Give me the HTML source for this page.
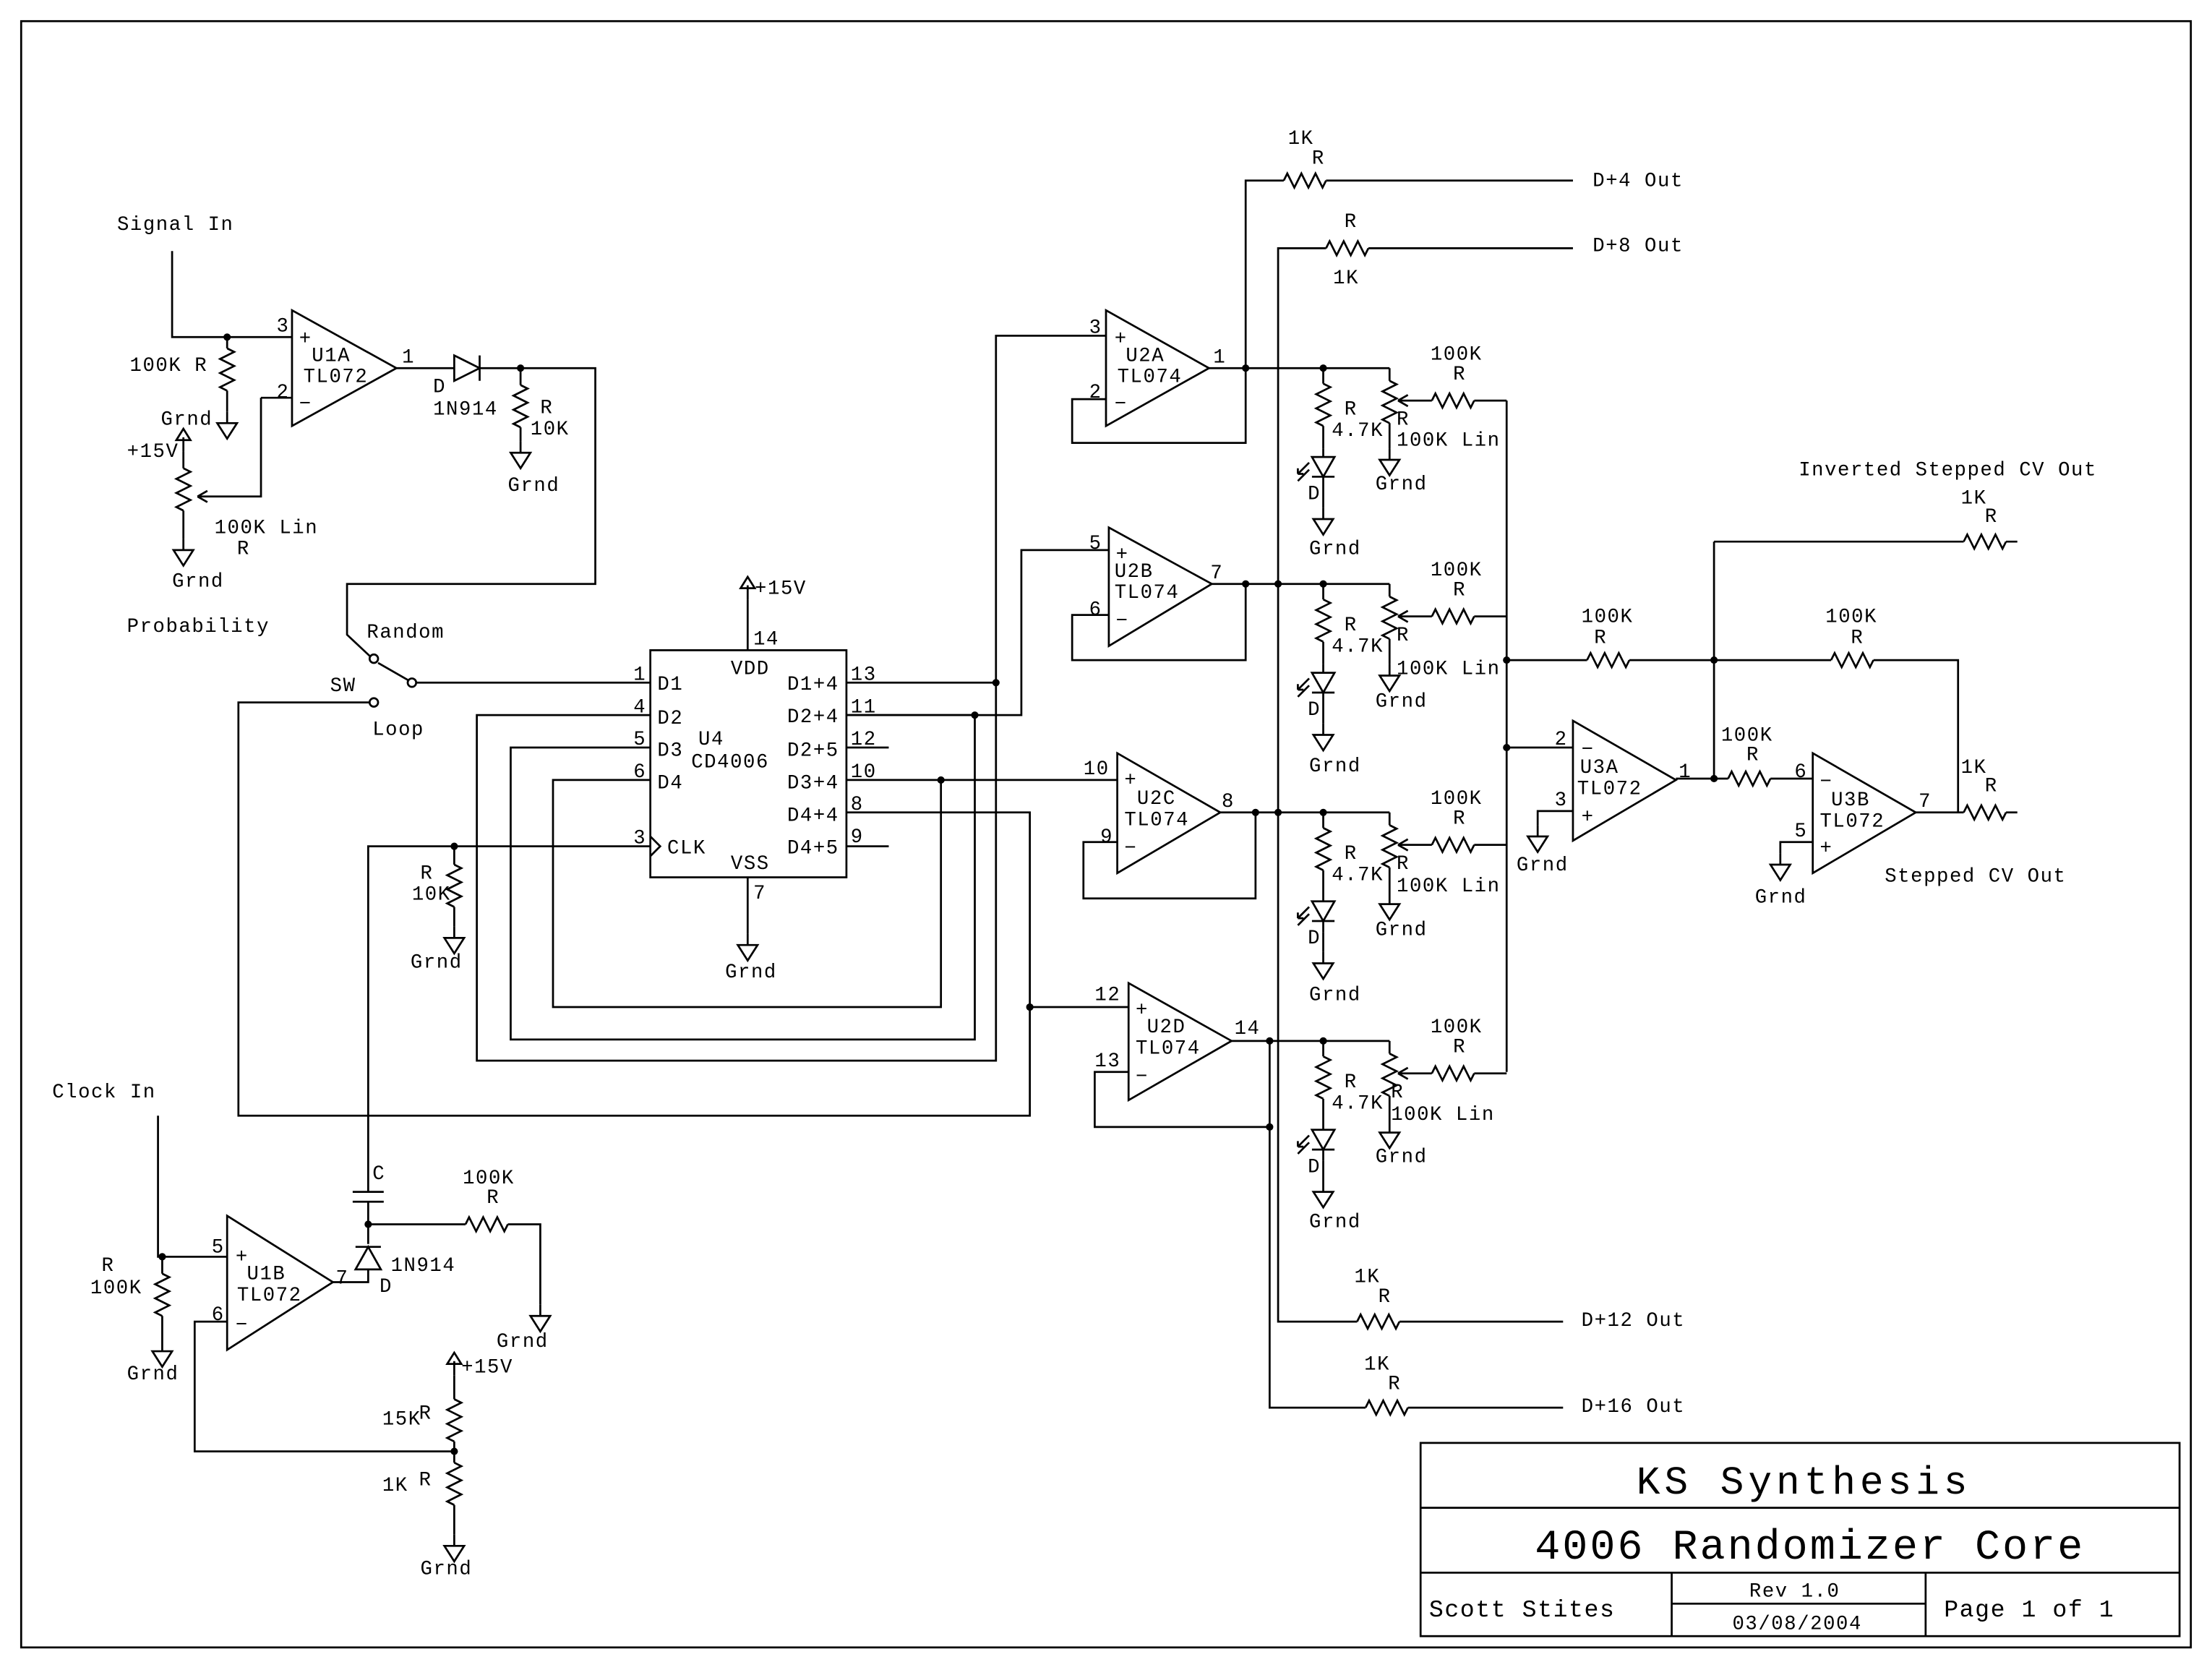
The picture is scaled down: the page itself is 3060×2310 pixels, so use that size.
<!DOCTYPE html>
<html><head><meta charset="utf-8">
<style>
html,body{margin:0;padding:0;background:#fff;}
svg{display:block;}
text{font-family:"Liberation Mono",monospace;font-size:14px;fill:#000;letter-spacing:0.8px;}
</style></head>
<body>
<svg width="3060" height="2310" viewBox="0 0 1568 1184" preserveAspectRatio="none" xmlns="http://www.w3.org/2000/svg">
<defs>
<path id="rh" d="M-15,0 l2.5,-5 l5,10 l5,-10 l5,10 l5,-10 l5,10 l2.5,-5" fill="none" stroke="#000" stroke-width="1.4"/>
<path id="rv" d="M0,-15 l5,2.5 l-10,5 l10,5 l-10,5 l10,5 l-10,5 l5,2.5" fill="none" stroke="#000" stroke-width="1.4"/>
<path id="gnd" d="M0,0 v8 M-7,8 h14 l-7,11 z" fill="none" stroke="#000" stroke-width="1.4"/>
<path id="vcc" d="M0,0 v-10 M-5,-8 l5,-8 l5,8 z" fill="none" stroke="#000" stroke-width="1.4"/>
<circle id="dot" r="2.6" fill="#000"/>
<g id="led" fill="none" stroke="#000" stroke-width="1.4">
<path d="M-8,0 h16 l-8,14 z M-8,14 h16 M0,-6 v6 M0,14 v8"/>
<path d="M-10,4 l-8,8 M-10,9 l-8,8 M-18,12 l0,-4 M-18,12 l4,0"/>
</g>
</defs>
<g fill="none" stroke="#000" stroke-width="1.4">
<rect x="15" y="15" width="1538" height="1153"/>
<rect x="1007" y="1023" width="538" height="137"/>
<path d="M1007,1069 H1545 M1007,1115 H1545 M1185,1115 V1160 M1365,1115 V1160 M1185,1137 H1365"/>

<path d="M122,178 V239 H207"/>
<path d="M161,239 V247 M161,277 V292"/>
<path d="M281,261 H322 M340,261 H422 V414 H246 V450 L262,465"/>
<path d="M322,252 V270 L340,261 Z M340,252 V270"/>
<path d="M369,261 V273 M369,303 V313"/>
<path d="M207,220 V302 L281,261 Z"/>
<path d="M185,282 H207 M185,282 V352 H140 M140,352 l7,-4 M140,352 l7,4"/>
<path d="M130,320 V332 M130,362 V382"/>
<circle cx="265" cy="467" r="3"/>
<circle cx="265" cy="498" r="3"/>
<circle cx="292" cy="484" r="3"/>
<path d="M289,482 L268,470 M295,484 H461"/>
<path d="M262,498 H169 V791 H730 V714 H800"/>

<rect x="461" y="461" width="139" height="161"/>
<path d="M461,593 l7,7 l-7,7"/>
<path d="M530,461 V425 M530,622 V662"/>
<path d="M461,507 H338 V752 H706 V238 H784"/>
<path d="M461,530 H362 V737 H691 V507 H600"/>
<path d="M461,553 H392 V714 H667 V553"/>
<path d="M600,484 H706"/>
<path d="M600,507 H724 V390 H786"/>
<path d="M600,530 H630 M600,600 H630"/>
<path d="M600,553 H792"/>
<path d="M600,576 H730 V714"/>
<path d="M461,600 H261 V845"/>
<path d="M322,600 V613 M322,643 V657"/>

<path d="M112,791 V891 H161 M115,891 V903 M115,933 V950"/>
<path d="M161,862 V957 L236,909 Z"/>
<path d="M161,937 H138 V1029 H322"/>
<path d="M322,975 V992 M322,1022 V1037 M322,1067 V1088"/>
<path d="M236,909 H261 V900 M261,882 V868 V852 M250,845 H272 M250,852 H272"/>
<path d="M252,900 H270 L261,884 Z M252,884 H270"/>
<path d="M261,868 H330 M360,868 H383 V925"/>

<path d="M784,220 V302 L857,261 Z"/>
<path d="M784,283 H760 V314 H883 V128 H910 M940,128 H1115"/>
<path d="M857,261 H985"/>
<path d="M786,374 V458 L859,414 Z"/>
<path d="M786,436 H760 V468 H883 V414 M859,414 H985"/>
<path d="M906,414 V176 H940 M970,176 H1115"/>
<path d="M906,414 V576"/>
<path d="M792,534 V619 L865,576 Z"/>
<path d="M792,597 H768 V637 H890 V576 M865,576 H985"/>
<path d="M906,576 V937 H962 M992,937 H1108"/>
<path d="M800,697 V780 L873,738 Z"/>
<path d="M800,760 H776 V799 H900 M873,738 H985"/>
<path d="M900,738 V998 H968 M998,998 H1108"/>

<path d="M1068,284 V760"/>
<path d="M1068,468 H1125 M1155,468 H1298 M1328,468 H1388 V576"/>
<path d="M1068,530 H1115"/>
<path d="M1115,511 V596 L1188,553 Z"/>
<path d="M1115,575 H1090 V585"/>
<path d="M1188,552 H1225 M1255,552 H1285"/>
<path d="M1215,384 V552 M1215,384 H1392 M1422,384 H1430"/>
<path d="M1285,534 V619 L1358,576 Z"/>
<path d="M1285,597 H1262 V605"/>
<path d="M1358,576 H1392 M1422,576 H1430"/>
</g>

<g fill="none" stroke="#000" stroke-width="1.4">
<path d="M938,261 V272 M938,302 V318 M938,346 V360"/>
<path d="M985,261 V270 M985,300 V318 M1045,284 H1068 M1015,284 H991 M991,284 l7,-4 M991,284 l7,4"/>
<path d="M938,414 V425 M938,455 V471 M938,499 V513"/>
<path d="M985,414 V423 M985,453 V471 M1045,437 H1068 M1015,437 H991 M991,437 l7,-4 M991,437 l7,4"/>
<path d="M938,576 V587 M938,617 V633 M938,661 V675"/>
<path d="M985,576 V585 M985,615 V633 M1045,599 H1068 M1015,599 H991 M991,599 l7,-4 M991,599 l7,4"/>
<path d="M938,738 V749 M938,779 V795 M938,823 V837"/>
<path d="M985,738 V747 M985,777 V795 M1045,761 H1068 M1015,761 H991 M991,761 l7,-4 M991,761 l7,4"/>
</g>
<use href="#rv" x="938" y="287"/><use href="#led" x="938" y="324"/><use href="#gnd" x="938" y="360"/>
<use href="#rv" x="985" y="285"/><use href="#gnd" x="985" y="318"/><use href="#rh" x="1030" y="284"/>
<use href="#rv" x="938" y="440"/><use href="#led" x="938" y="477"/><use href="#gnd" x="938" y="513"/>
<use href="#rv" x="985" y="438"/><use href="#gnd" x="985" y="471"/><use href="#rh" x="1030" y="437"/>
<use href="#rv" x="938" y="602"/><use href="#led" x="938" y="639"/><use href="#gnd" x="938" y="675"/>
<use href="#rv" x="985" y="600"/><use href="#gnd" x="985" y="633"/><use href="#rh" x="1030" y="599"/>
<use href="#rv" x="938" y="764"/><use href="#led" x="938" y="801"/><use href="#gnd" x="938" y="837"/>
<use href="#rv" x="985" y="762"/><use href="#gnd" x="985" y="795"/><use href="#rh" x="1030" y="761"/>

<use href="#rv" x="161" y="262"/><use href="#gnd" x="161" y="292"/>
<use href="#rv" x="369" y="288"/><use href="#gnd" x="369" y="313"/>
<use href="#rv" x="130" y="347"/><use href="#vcc" x="130" y="320"/><use href="#gnd" x="130" y="382"/>
<use href="#vcc" x="530" y="425"/><use href="#gnd" x="530" y="662"/>
<use href="#rv" x="322" y="628"/><use href="#gnd" x="322" y="657"/>
<use href="#rv" x="115" y="918"/><use href="#gnd" x="115" y="950"/>
<use href="#vcc" x="322" y="975"/><use href="#rv" x="322" y="1007"/><use href="#rv" x="322" y="1052"/><use href="#gnd" x="322" y="1088"/>
<use href="#rh" x="345" y="868"/><use href="#gnd" x="383" y="925"/>
<use href="#rh" x="925" y="128"/><use href="#rh" x="955" y="176"/>
<use href="#rh" x="977" y="937"/><use href="#rh" x="983" y="998"/>
<use href="#rh" x="1140" y="468"/><use href="#rh" x="1313" y="468"/><use href="#rh" x="1240" y="552"/>
<use href="#rh" x="1407" y="384"/><use href="#rh" x="1407" y="576"/>
<use href="#gnd" x="1090" y="585"/><use href="#gnd" x="1262" y="605"/>

<use href="#dot" x="161" y="239"/><use href="#dot" x="369" y="261"/>
<use href="#dot" x="706" y="484"/><use href="#dot" x="691" y="507"/><use href="#dot" x="667" y="553"/>
<use href="#dot" x="322" y="600"/><use href="#dot" x="730" y="714"/>
<use href="#dot" x="115" y="891"/><use href="#dot" x="322" y="1029"/><use href="#dot" x="261" y="868"/>
<use href="#dot" x="883" y="261"/><use href="#dot" x="938" y="261"/>
<use href="#dot" x="883" y="414"/><use href="#dot" x="906" y="414"/><use href="#dot" x="938" y="414"/>
<use href="#dot" x="890" y="576"/><use href="#dot" x="906" y="576"/><use href="#dot" x="938" y="576"/>
<use href="#dot" x="900" y="738"/><use href="#dot" x="938" y="738"/><use href="#dot" x="900" y="799"/>
<use href="#dot" x="1068" y="468"/><use href="#dot" x="1068" y="530"/>
<use href="#dot" x="1215" y="468"/><use href="#dot" x="1215" y="552"/>

<text x="83" y="163">Signal In</text>
<text x="92" y="263">100K R</text>
<text x="114" y="301">Grnd</text>
<text x="90" y="324">+15V</text>
<text x="152" y="378">100K Lin</text>
<text x="168" y="393">R</text>
<text x="122" y="416">Grnd</text>
<text x="90" y="448">Probability</text>
<text x="196" y="235">3</text><text x="196" y="282">2</text><text x="285" y="257">1</text>
<text x="212" y="244">+</text><text x="212" y="290">−</text>
<text x="221" y="256">U1A</text><text x="215" y="271">TL072</text>
<text x="307" y="278">D</text><text x="307" y="294">1N914</text>
<text x="383" y="293">R</text><text x="376" y="308">10K</text>
<text x="360" y="348">Grnd</text>
<text x="260" y="452">Random</text>
<text x="234" y="490">SW</text>
<text x="264" y="521">Loop</text>

<text x="535" y="421">+15V</text>
<text x="534" y="457">14</text>
<text x="518" y="478">VDD</text><text x="518" y="616">VSS</text>
<text x="495" y="528">U4</text><text x="490" y="544">CD4006</text>
<text x="466" y="489">D1</text><text x="466" y="513">D2</text><text x="466" y="536">D3</text><text x="466" y="559">D4</text>
<text x="473" y="605">CLK</text>
<text x="449" y="482">1</text><text x="449" y="505">4</text><text x="449" y="528">5</text><text x="449" y="551">6</text><text x="449" y="598">3</text>
<text x="558" y="489">D1+4</text><text x="558" y="512">D2+4</text><text x="558" y="536">D2+5</text>
<text x="558" y="559">D3+4</text><text x="558" y="582">D4+4</text><text x="558" y="605">D4+5</text>
<text x="603" y="482">13</text><text x="603" y="505">11</text><text x="603" y="528">12</text>
<text x="603" y="551">10</text><text x="603" y="574">8</text><text x="603" y="597">9</text>
<text x="534" y="637">7</text>
<text x="514" y="693">Grnd</text>
<text x="298" y="623">R</text><text x="292" y="638">10K</text>
<text x="291" y="686">Grnd</text>

<text x="37" y="778">Clock In</text>
<text x="72" y="901">R</text><text x="64" y="917">100K</text>
<text x="90" y="978">Grnd</text>
<text x="150" y="888">5</text><text x="150" y="936">6</text><text x="238" y="910">7</text>
<text x="167" y="895">+</text><text x="167" y="943">−</text>
<text x="175" y="907">U1B</text><text x="168" y="922">TL072</text>
<text x="264" y="836">C</text>
<text x="277" y="901">1N914</text><text x="269" y="916">D</text>
<text x="328" y="839">100K</text><text x="345" y="853">R</text>
<text x="352" y="955">Grnd</text>
<text x="327" y="973">+15V</text>
<text x="271" y="1010">15K</text><text x="297" y="1006">R</text>
<text x="271" y="1057">1K</text><text x="297" y="1053">R</text>
<text x="298" y="1116">Grnd</text>

<text x="913" y="102">1K</text><text x="930" y="116">R</text><text x="1129" y="132">D+4 Out</text>
<text x="953" y="161">R</text><text x="945" y="201">1K</text><text x="1129" y="178">D+8 Out</text>

<text x="772" y="236">3</text><text x="772" y="282">2</text><text x="860" y="257">1</text>
<text x="790" y="244">+</text><text x="790" y="290">−</text>
<text x="798" y="256">U2A</text><text x="792" y="271">TL074</text>
<text x="772" y="389">5</text><text x="772" y="436">6</text><text x="858" y="410">7</text>
<text x="791" y="397">+</text><text x="791" y="444">−</text>
<text x="790" y="409">U2B</text><text x="790" y="424">TL074</text>
<text x="768" y="549">10</text><text x="780" y="597">9</text><text x="866" y="572">8</text>
<text x="797" y="557">+</text><text x="797" y="605">−</text>
<text x="806" y="570">U2C</text><text x="797" y="585">TL074</text>
<text x="776" y="709">12</text><text x="776" y="756">13</text><text x="875" y="733">14</text>
<text x="805" y="720">+</text><text x="805" y="767">−</text>
<text x="813" y="732">U2D</text><text x="805" y="747">TL074</text>

<text x="1014" y="255">100K</text><text x="1030" y="269">R</text>
<text x="953" y="294">R</text><text x="944" y="309">4.7K</text>
<text x="990" y="301">R</text><text x="990" y="316">100K Lin</text>
<text x="927" y="354">D</text><text x="975" y="347">Grnd</text><text x="928" y="393">Grnd</text>
<text x="1014" y="408">100K</text><text x="1030" y="422">R</text>
<text x="953" y="447">R</text><text x="944" y="462">4.7K</text>
<text x="990" y="454">R</text><text x="990" y="478">100K Lin</text>
<text x="927" y="507">D</text><text x="975" y="501">Grnd</text><text x="928" y="547">Grnd</text>
<text x="1014" y="570">100K</text><text x="1030" y="584">R</text>
<text x="953" y="609">R</text><text x="944" y="624">4.7K</text>
<text x="990" y="616">R</text><text x="990" y="632">100K Lin</text>
<text x="927" y="669">D</text><text x="975" y="663">Grnd</text><text x="928" y="709">Grnd</text>
<text x="1014" y="732">100K</text><text x="1030" y="746">R</text>
<text x="953" y="771">R</text><text x="944" y="786">4.7K</text>
<text x="986" y="778">R</text><text x="986" y="794">100K Lin</text>
<text x="927" y="831">D</text><text x="975" y="824">Grnd</text><text x="928" y="870">Grnd</text>

<text x="960" y="909">1K</text><text x="977" y="923">R</text><text x="1121" y="940">D+12 Out</text>
<text x="967" y="971">1K</text><text x="984" y="985">R</text><text x="1121" y="1001">D+16 Out</text>

<text x="1121" y="441">100K</text><text x="1130" y="456">R</text>
<text x="1294" y="441">100K</text><text x="1312" y="456">R</text>
<text x="1220" y="525">100K</text><text x="1238" y="539">R</text>
<text x="1275" y="337">Inverted Stepped CV Out</text>
<text x="1390" y="357">1K</text><text x="1407" y="370">R</text>
<text x="1390" y="548">1K</text><text x="1407" y="561">R</text>
<text x="1336" y="625">Stepped CV Out</text>
<text x="1102" y="528">2</text><text x="1102" y="571">3</text><text x="1190" y="551">1</text>
<text x="1121" y="535">−</text><text x="1121" y="583">+</text>
<text x="1120" y="548">U3A</text><text x="1118" y="563">TL072</text>
<text x="1075" y="617">Grnd</text>
<text x="1272" y="551">6</text><text x="1272" y="593">5</text><text x="1360" y="572">7</text>
<text x="1290" y="558">−</text><text x="1290" y="605">+</text>
<text x="1298" y="571">U3B</text><text x="1290" y="586">TL072</text>
<text x="1244" y="640">Grnd</text>

<text x="1160" y="1059" style="font-size:28px;letter-spacing:3px">KS Synthesis</text>
<text x="1088" y="1105" style="font-size:30px;letter-spacing:1.5px">4006 Randomizer Core</text>
<text x="1013" y="1146" style="font-size:17px">Scott Stites</text>
<text x="1240" y="1132">Rev 1.0</text>
<text x="1228" y="1155">03/08/2004</text>
<text x="1378" y="1146" style="font-size:17px">Page 1 of 1</text>
</svg>
</body></html>
